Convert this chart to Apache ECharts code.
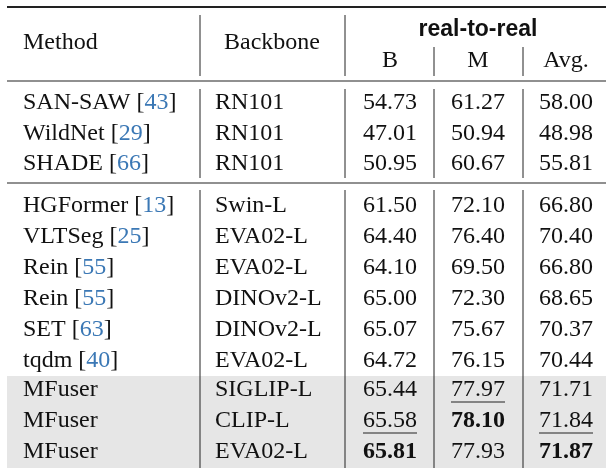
<!DOCTYPE html>
<html><head><meta charset="utf-8">
<script src="https://cdn.jsdelivr.net/npm/echarts@6/dist/echarts.min.js"></script>
<style>html,body{margin:0;padding:0;background:#fff}#c{width:614px;height:472px}</style>
</head><body><div id="c"></div>
<script>
const methods = ["SAN-SAW","WildNet","SHADE","HGFormer","VLTSeg","Rein","Rein","SET","tqdm","MFuser","MFuser","MFuser"];
const refs = ["43","29","66","13","25","55","55","63","40","","",""];
const backbones = ["RN101","RN101","RN101","Swin-L","EVA02-L","EVA02-L","DINOv2-L","DINOv2-L","EVA02-L","SIGLIP-L","CLIP-L","EVA02-L"];
const colB = ["54.73","47.01","50.95","61.50","64.40","64.10","65.00","65.07","64.72","65.44","65.58","65.81"];
const colM = ["61.27","50.94","60.67","72.10","76.40","69.50","72.30","75.67","76.15","77.97","78.10","77.93"];
const colAvg = ["58.00","48.98","55.81","66.80","70.40","66.80","68.65","70.37","70.44","71.71","71.84","71.87"];
const markB = ["","","","","","","","","","","u","b"];
const markM = ["","","","","","","","","","u","b",""];
const markAvg = ["","","","","","","","","","","u","b"];
const headers = ["Method","Backbone","real-to-real","B","M","Avg."];

const F = "'Liberation Serif','DejaVu Serif',serif";
const FS = 24;
const rowY = [103,133.5,164,206,237,268,299,330,361,390,421,452];
const g = [];
function txt(x,y,s,opt){opt=opt||{};g.push({type:'text',x:x,y:y,style:{text:s,font:(opt.bold?'bold ':'')+FS+'px '+F,fill:opt.fill||'#111',textAlign:opt.align||'left',textVerticalAlign:'middle'}});}
function line(x1,y1,x2,y2,w){g.push({type:'line',shape:{x1:x1,y1:y1,x2:x2,y2:y2},style:{stroke:'#222',lineWidth:w||1}});}
g.push({type:'rect',shape:{x:7,y:376,width:599,height:92},style:{fill:'#e6e6e6'}});
line(7,7,606,7,2); line(7,81,606,81,1.2); line(7,183,606,183,1.2);
line(200,15,200,76); line(345,15,345,76); line(434,47,434,76); line(523,47,523,76);
[200,345,434,523].forEach(x=>{line(x,89,x,178);line(x,190,x,468);});
txt(23,43,headers[0]); txt(272,43,headers[1],{align:'center'});
g.push({type:'text',x:478,y:30,style:{text:headers[2],font:'bold 23px "Liberation Sans",Arial,sans-serif',fill:'#111',textAlign:'center',textVerticalAlign:'middle'}});
txt(390,61,headers[3],{align:'center'}); txt(478,61,headers[4],{align:'center'}); txt(566,61,headers[5],{align:'center'});
const ctx = document.createElement('canvas').getContext('2d');
function w(s,b){ctx.font=(b?'bold ':'')+FS+'px '+F;return ctx.measureText(s).width;}
function cell(x,y,s,m){txt(x,y,s,{align:'center',bold:m==='b'});if(m==='u'){const ww=w(s,false);line(x-ww/2,y+12,x+ww/2,y+12,1);}}
methods.forEach((m,i)=>{
  const y=rowY[i];
  if(refs[i]){
    const a=m+' [', b=refs[i];
    txt(23,y,a); txt(23+w(a),y,b,{fill:'#3b78b5'}); txt(23+w(a)+w(b),y,']');
  } else txt(23,y,m);
  txt(215,y,backbones[i]);
  cell(390,y,colB[i],markB[i]); cell(478,y,colM[i],markM[i]); cell(566,y,colAvg[i],markAvg[i]);
});
const chart = echarts.init(document.getElementById('c'));
chart.setOption({graphic:{elements:g}});
</script></body></html>
